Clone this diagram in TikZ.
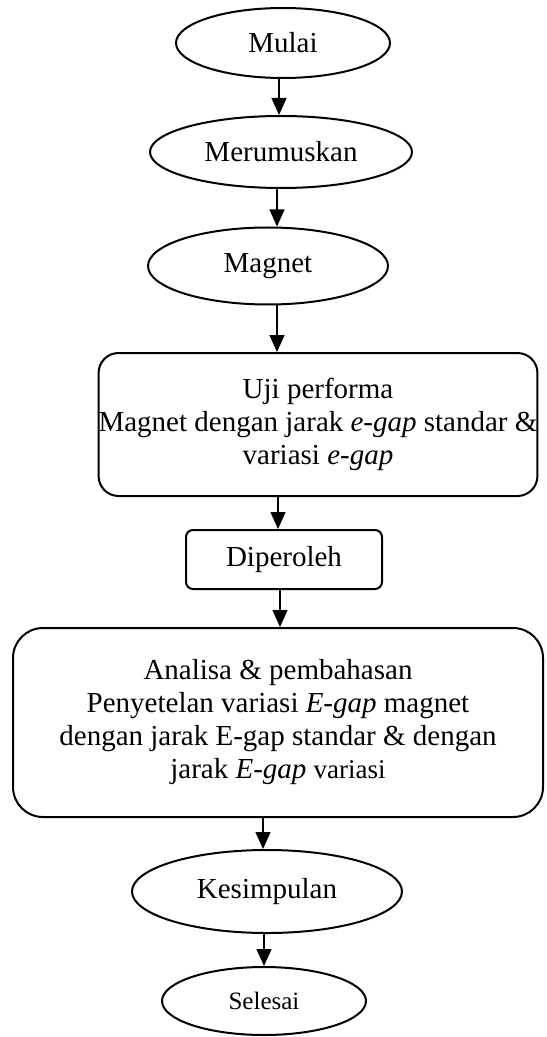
\documentclass[tikz,border=0pt]{standalone}
\usepackage{fontspec}
\setmainfont{Liberation Serif}
\usetikzlibrary{shapes.geometric,arrows.meta}
\tikzset{
	terminal/.style={ellipse, draw, line width=1pt, inner sep=0pt},
	proses/.style={rectangle, draw, line width=1pt, align=center, inner sep=0pt},
	panah/.style={-{Triangle[length=8.5pt,width=7.5pt]}, line width=0.6pt},
}
\newcommand{\kecil}{\fontsize{12.5}{15}\selectfont}
\begin{document}
\begin{tikzpicture}[x=0.5pt,y=-0.5pt,font=\fontsize{14.5}{16.5}\selectfont]
		\useasboundingbox (0,0) rectangle (546,1037);
		\node[terminal, minimum width=107pt, minimum height=35pt] (mulai) at (283,43) {Mulai};
		\node[terminal, minimum width=131pt, minimum height=36pt] (rumus) at (281,152) {Merumuskan};
		\node[terminal, minimum width=120pt, minimum height=38.5pt] (magnet) at (268,266) {Magnet};
		\node[proses, rounded corners=10pt, minimum width=218pt, minimum height=71.5pt] (uji) at (318,424.5)
			{Uji performa\\ Magnet dengan jarak \textit{e-gap} standar \&\\ variasi \textit{e-gap}};
		\node[proses, rounded corners=3.5pt, minimum width=98pt, minimum height=29.5pt] (peroleh) at (284,559.5) {Diperoleh};
		\node[proses, rounded corners=15pt, minimum width=265pt, minimum height=94.5pt] (analisa) at (278,722.5)
			{Analisa \& pembahasan\\ Penyetelan variasi \textit{E-gap} magnet\\ dengan jarak E-gap standar \& dengan\\ jarak \textit{E-gap} {\fontsize{13.5}{16.5}\selectfont variasi}};
		\node[terminal, minimum width=135pt, minimum height=41.5pt] (simpul) at (267,891.5) {Kesimpulan};
		\node[terminal, minimum width=102pt, minimum height=34pt, font=\kecil] (selesai) at (264,1001) {Selesai};
		\draw[panah] ([xshift=-2pt]mulai.south) -- ([xshift=-2pt]mulai.south |- rumus.north);
		\draw[panah] ([xshift=-2pt]rumus.south) -- ([xshift=-2pt]rumus.south |- magnet.north);
		\draw[panah] ([xshift=4.5pt]magnet.south) -- ([xshift=4.5pt]magnet.south |- uji.north);
		\draw[panah] ([xshift=-20pt]uji.south) -- ([xshift=-20pt]uji.south |- peroleh.north);
		\draw[panah] ([xshift=-2pt]peroleh.south) -- ([xshift=-2pt]peroleh.south |- analisa.north);
		\draw[panah] ([xshift=-7.5pt]analisa.south) -- ([xshift=-7.5pt]analisa.south |- simpul.north);
		\draw[panah] ([xshift=-1.5pt]simpul.south) -- ([xshift=-1.5pt]simpul.south |- selesai.north);
	\end{tikzpicture}
\end{document}
